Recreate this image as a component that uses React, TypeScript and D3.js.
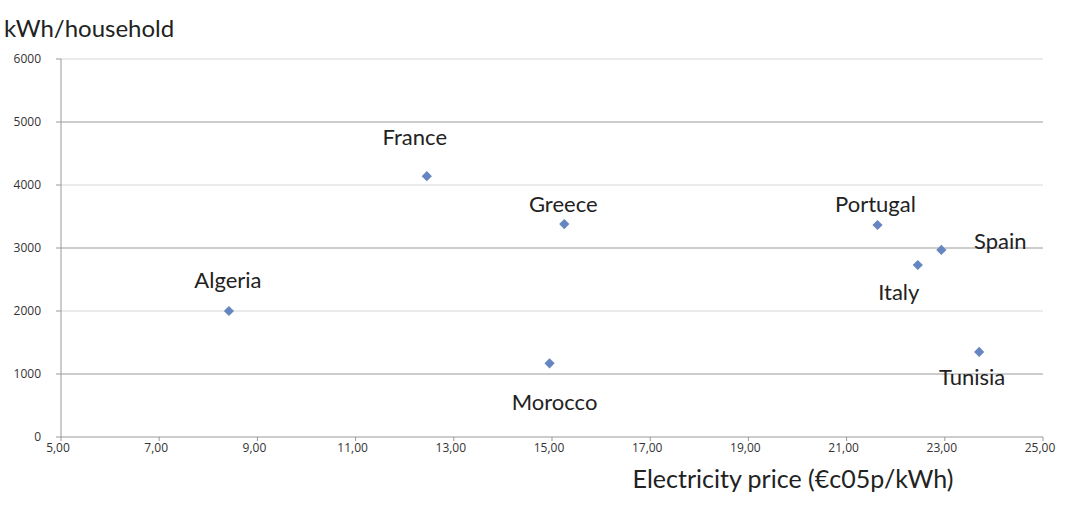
import React from "react";
import * as d3 from "d3";

const countries = ["Algeria", "France", "Greece", "Morocco", "Portugal", "Spain", "Italy", "Tunisia"];
const prices = [8.42, 12.45, 15.25, 14.95, 21.63, 22.93, 22.45, 23.7];
const consumption = [2000, 4140, 3380, 1170, 3365, 2970, 2730, 1350];
// label offsets relative to point (dx, dy in px)
const labelDx = [-1, -12, -1, 5, -2, 59, -19, -7];
const labelDy = [-23, -31, -12, 47, -13, -1, 35, 33];

const xTicks = [5, 7, 9, 11, 13, 15, 17, 19, 21, 23, 25];
const yTicks = [0, 1000, 2000, 3000, 4000, 5000, 6000];

const W = 1085;
const H = 518;
const M = { left: 61, right: 1043, top: 59, bottom: 437 };

export default function App() {
  const x = d3.scaleLinear().domain([5, 25]).range([M.left, M.right]);
  const y = d3.scaleLinear().domain([0, 6000]).range([M.bottom, M.top]);
  const fmtX = (v: number) => v.toFixed(2).replace(".", ",");
  const font = "Lato, 'Open Sans', sans-serif";
  const tickFont = "'Open Sans', 'Liberation Sans', sans-serif";

  return (
    <svg
      width={W}
      height={H}
      style={{ position: "absolute", left: 0, top: 0, background: "#fff" }}
      fontFamily={font}
    >
      <text x={4} y={37} fontSize={24} fill="#222">kWh/household</text>

      {yTicks.map((t, i) => (
        <g key={t}>
          {t > 0 && (
            <line
              x1={M.left}
              x2={M.right}
              y1={y(t)}
              y2={y(t)}
              stroke={i % 2 === 1 ? "#9a9a9a" : "#d6d6d6"}
              strokeWidth={1}
            />
          )}
          <line x1={M.left - 5} x2={M.left} y1={y(t)} y2={y(t)} stroke="#999" />
          <text x={41} y={y(t) + 4} fontSize={12} textAnchor="end" fill="#333" fontFamily={tickFont}>
            {t}
          </text>
        </g>
      ))}

      <line x1={M.left} x2={M.left} y1={M.top} y2={M.bottom} stroke="#999" />
      <line x1={M.left} x2={M.right} y1={M.bottom} y2={M.bottom} stroke="#999" />

      {xTicks.map((t) => (
        <g key={t}>
          <line x1={x(t)} x2={x(t)} y1={M.bottom} y2={M.bottom + 4} stroke="#999" />
          <text x={x(t) - 3} y={M.bottom + 15} fontSize={12} textAnchor="middle" fill="#333" fontFamily={tickFont}>
            {fmtX(t)}
          </text>
        </g>
      ))}

      <text x={793} y={488} fontSize={25} textAnchor="middle" fill="#222">
        Electricity price (€c05p/kWh)
      </text>

      {countries.map((c, i) => (
        <g key={c}>
          <rect
            x={-3.6}
            y={-3.6}
            width={7.2}
            height={7.2}
            transform={`translate(${x(prices[i])},${y(consumption[i])}) rotate(45)`}
            fill="#6586c0"
          />
          <text
            x={x(prices[i]) + labelDx[i]}
            y={y(consumption[i]) + labelDy[i]}
            fontSize={22}
            textAnchor="middle"
            fill="#222"
          >
            {c}
          </text>
        </g>
      ))}
    </svg>
  );
}
